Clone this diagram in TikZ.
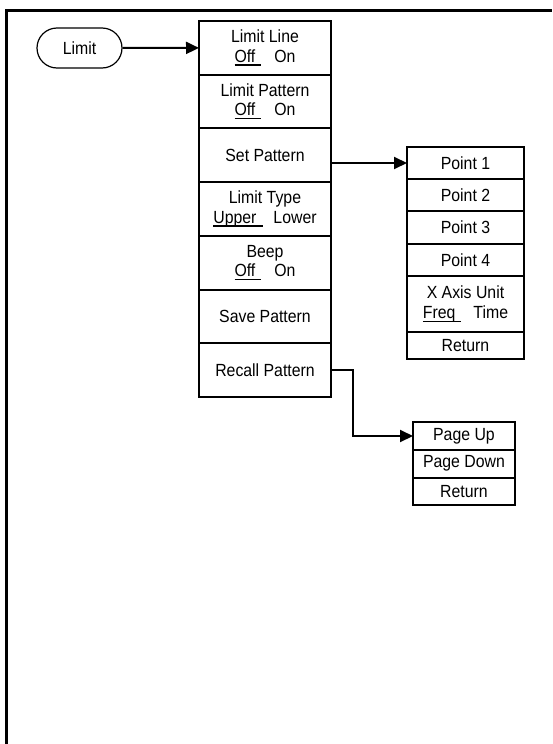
\documentclass[tikz,border=0pt]{standalone}
\usepackage{fontspec}
\setmainfont{Liberation Sans}[FakeStretch=0.9]
\usepackage{tikz}
\usetikzlibrary{positioning,arrows.meta,shapes.misc}

\newcommand{\menufont}{\fontsize{17.6}{19.5}\selectfont}
% selected choice of a toggle key: underlined, the rule running a bit past the word
\newcommand{\onsel}[1]{\setbox0=\hbox{#1\hspace{6pt}}\rlap{\rule[-3.5pt]{\wd0}{1.3pt}}\box0}

\begin{document}
\begin{tikzpicture}[
    x=1pt, y=1pt,
    node distance=0pt,
    hardkey/.style={
      draw,
      line width=1.2pt,
      rounded rectangle,
      minimum width=85pt,
      minimum height=40pt,
      inner sep=0pt,
      font=\menufont
    },
    softkey/.style={
      draw,
      line width=2pt,
      outer sep=0pt,
      inner sep=0pt,
      align=center,
      font=\menufont
    },
    mainkey/.style={softkey, minimum width=132pt, minimum height=53.7pt},
    patkey/.style={softkey, minimum width=117pt, minimum height=32.3pt},
    pagekey/.style={softkey, minimum width=102pt, minimum height=27.7pt},
    arrow/.style={
      -{Triangle[length=13pt,width=12pt]},
      line width=2pt
    }
  ]
  \useasboundingbox (0,0) rectangle (552,-744);

  % page frame: top and left edges only
  \draw[line width=3.2pt] (6.3,-744) -- (6.3,-10.5) -- (552,-10.5);

  % front panel key
  \node[hardkey] (limit) at (79.5,-48) {Limit};

  % Limit menu
  \node[mainkey] (limline) at (265,-47.85) {Limit Line\\\onsel{Off}\hspace{13pt}On};
  \node[mainkey, below=of limline] (limpat) {Limit Pattern\\\onsel{Off}\hspace{13pt}On};
  \node[mainkey, below=of limpat] (setpat) {Set Pattern};
  \node[mainkey, below=of setpat] (limtype) {Limit Type\\\onsel{Upper}\hspace{11pt}Lower};
  \node[mainkey, below=of limtype] (beep) {Beep\\\onsel{Off}\hspace{13pt}On};
  \node[mainkey, below=of beep] (savepat) {Save Pattern};
  \node[mainkey, below=of savepat] (recallpat) {Recall Pattern};

  % Set Pattern submenu
  \node[patkey] (pt1) at (465.5,-163) {Point 1};
  \node[patkey, below=of pt1] (pt2) {Point 2};
  \node[patkey, below=of pt2] (pt3) {Point 3};
  \node[patkey, below=of pt3] (pt4) {Point 4};
  \node[patkey, below=of pt4, minimum height=56pt] (xunit) {X Axis Unit\\\onsel{Freq}\hspace{12pt}Time};
  \node[patkey, below=of xunit, minimum height=27pt] (patret) {Return};

  % Recall Pattern submenu
  \node[pagekey] (pgup) at (464,-436) {Page Up};
  \node[pagekey, below=of pgup] (pgdown) {Page Down};
  \node[pagekey, below=of pgdown] (pageret) {Return};

  % key links
  \draw[arrow] (limit) -- (limline);
  \draw[arrow] (setpat.east |- pt1.west) -- (pt1.west);
  \draw[arrow] (recallpat.east) -- ++(22,0) |- (pgup.west);

\end{tikzpicture}
\end{document}
